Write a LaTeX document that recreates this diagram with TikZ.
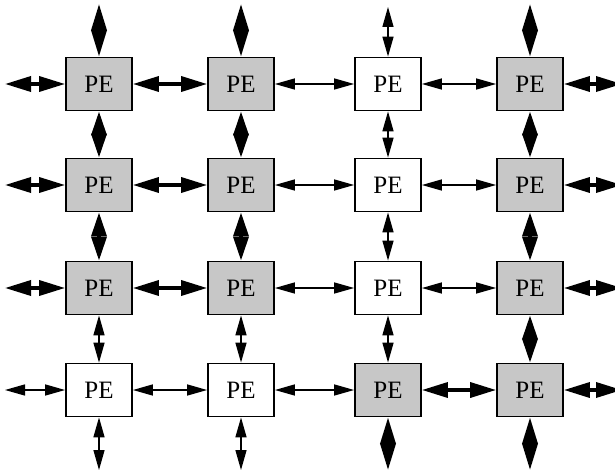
\documentclass[tikz,border=0pt]{standalone}
\usepackage{fontspec}
\setmainfont{Liberation Serif}
\usetikzlibrary{arrows.meta}

\begin{document}
\begin{tikzpicture}[x=1pt, y=1pt,
  pe/.style={draw, line width=1.8pt, minimum width=66pt, minimum height=53pt,
             inner sep=0pt, font=\fontsize{25}{27}\selectfont},
  pegray/.style={pe, fill=black!22},
  pewhite/.style={pe, fill=white},
  hthick/.style={line width=3.5pt, {Triangle[length=26pt,width=15pt]}-{Triangle[length=26pt,width=15pt]}},
  vthick/.style={line width=3.5pt, {Triangle[length=24pt,width=15pt]}-{Triangle[length=24pt,width=15pt]}},
  vouter/.style={line width=3.5pt, {Triangle[length=26.5pt,width=15pt]}-{Triangle[length=26.5pt,width=15pt]}},
  thin/.style={line width=1.4pt, {Triangle[length=20pt,width=11pt]}-{Triangle[length=20pt,width=11pt]}}]
\useasboundingbox (0,0) rectangle (615,475);

% row 1
\node[pegray]  (PE11) at (99,391)  {PE};
\node[pegray]  (PE12) at (241,391) {PE};
\node[pewhite] (PE13) at (388,391) {PE};
\node[pegray]  (PE14) at (530,391) {PE};
% row 2
\node[pegray]  (PE21) at (99,290)  {PE};
\node[pegray]  (PE22) at (241,290) {PE};
\node[pewhite] (PE23) at (388,290) {PE};
\node[pegray]  (PE24) at (530,290) {PE};
% row 3
\node[pegray]  (PE31) at (99,187)  {PE};
\node[pegray]  (PE32) at (241,187) {PE};
\node[pewhite] (PE33) at (388,187) {PE};
\node[pegray]  (PE34) at (530,187) {PE};
% row 4
\node[pewhite] (PE41) at (99,85)   {PE};
\node[pewhite] (PE42) at (241,85)  {PE};
\node[pegray]  (PE43) at (388,85)  {PE};
\node[pegray]  (PE44) at (530,85)  {PE};

% free ends at the border
\coordinate (L1) at (5,391);     \coordinate (R1) at (622,391);
\coordinate (L2) at (5,290);     \coordinate (R2) at (622,290);
\coordinate (L3) at (5,187);     \coordinate (R3) at (622,187);
\coordinate (L4) at (5,85);      \coordinate (R4) at (622,85);
\coordinate (T1) at (99,471);    \coordinate (B1) at (99,5);
\coordinate (T2) at (241,471);   \coordinate (B2) at (241,5);
\coordinate (T3) at (388,468);   \coordinate (B3) at (388,5);
\coordinate (T4) at (530,471);   \coordinate (B4) at (530,5);

% horizontal links
\draw[hthick] (L1) -- (PE11);
\draw[hthick] (PE11) -- (PE12);
\draw[thin]   (PE12) -- (PE13);
\draw[thin]   (PE13) -- (PE14);
\draw[hthick] (PE14) -- (R1);

\draw[hthick] (L2) -- (PE21);
\draw[hthick] (PE21) -- (PE22);
\draw[thin]   (PE22) -- (PE23);
\draw[thin]   (PE23) -- (PE24);
\draw[hthick] (PE24) -- (R2);

\draw[hthick] (L3) -- (PE31);
\draw[hthick] (PE31) -- (PE32);
\draw[thin]   (PE32) -- (PE33);
\draw[thin]   (PE33) -- (PE34);
\draw[hthick] (PE34) -- (R3);

\draw[thin]   (L4) -- (PE41);
\draw[thin]   (PE41) -- (PE42);
\draw[thin]   (PE42) -- (PE43);
\draw[hthick] (PE43) -- (PE44);
\draw[hthick] (PE44) -- (R4);

% vertical links
\draw[vouter] (T1) -- (PE11);
\draw[vthick] (PE11) -- (PE21);
\draw[vthick] (PE21) -- (PE31);
\draw[thin]   (PE31) -- (PE41);
\draw[thin]   (PE41) -- (B1);

\draw[vouter] (T2) -- (PE12);
\draw[vthick] (PE12) -- (PE22);
\draw[vthick] (PE22) -- (PE32);
\draw[thin]   (PE32) -- (PE42);
\draw[thin]   (PE42) -- (B2);

\draw[thin]   (T3) -- (PE13);
\draw[thin]   (PE13) -- (PE23);
\draw[thin]   (PE23) -- (PE33);
\draw[thin]   (PE33) -- (PE43);
\draw[vouter] (PE43) -- (B3);

\draw[vouter] (T4) -- (PE14);
\draw[vthick] (PE14) -- (PE24);
\draw[vthick] (PE24) -- (PE34);
\draw[vthick] (PE34) -- (PE44);
\draw[vouter] (PE44) -- (B4);
\end{tikzpicture}
\end{document}
